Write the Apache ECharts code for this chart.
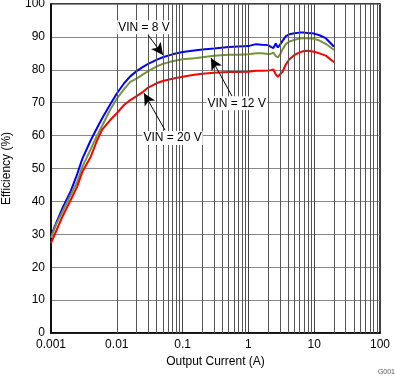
<!DOCTYPE html>
<html>
<head>
<meta charset="utf-8">
<script src="https://cdn.jsdelivr.net/npm/echarts@6/dist/echarts.min.js"></script>
<style>html,body{margin:0;padding:0;background:#fff}#c{width:395px;height:377px}</style>
</head>
<body>
<div id="c"></div>
<script>
var currents = [0.001, 0.0012, 0.0015, 0.002, 0.0025, 0.003, 0.004, 0.005, 0.006, 0.008, 0.01, 0.013, 0.016, 0.02, 0.025, 0.03, 0.04, 0.05, 0.07, 0.1, 0.15, 0.2, 0.3, 0.5, 0.7, 1, 1.3, 1.6, 2, 2.2, 2.4, 2.6, 2.8, 3, 3.3, 3.7, 4.2, 5, 6, 7, 8, 10, 12, 15, 20];
var eff8V  = [29.5, 33.5, 38, 43.2, 48.3, 53, 58.5, 62.3, 65.3, 69.6, 72.8, 76, 78, 79.6, 80.9, 81.8, 83, 83.8, 84.7, 85.4, 85.9, 86.2, 86.5, 86.9, 87.1, 87.2, 87.8, 87.6, 87.5, 87.0, 86.6, 88.0, 86.8, 87.5, 88.8, 90.2, 90.8, 91.1, 91.3, 91.3, 91.2, 91.0, 90.5, 89.6, 87.0];
var eff12V = [29, 33, 37, 42, 46, 50.5, 55.8, 60, 63, 68, 71.2, 74.2, 76.3, 77.3, 78.6, 79.6, 81, 81.8, 82.6, 83.2, 83.5, 83.8, 84.3, 84.6, 84.6, 84.7, 85.0, 85.0, 84.8, 84.9, 85.2, 84.2, 83.8, 84.5, 86.2, 87.8, 88.6, 89.1, 89.5, 89.6, 89.6, 89.4, 88.9, 87.9, 86.0];
var eff20V = [27.3, 31, 35.5, 40.5, 44.5, 49, 53.5, 58.5, 61.8, 64.8, 66.8, 69.4, 70.8, 72, 73.3, 74.6, 75.9, 76.6, 77.3, 77.9, 78.5, 78.8, 79.1, 79.3, 79.3, 79.4, 79.7, 79.7, 79.8, 79.9, 80.1, 78.6, 77.9, 78.2, 79.4, 81.6, 83.2, 84.5, 85.3, 85.7, 85.8, 85.5, 85.0, 84.3, 82.3];
var seriesNames = ['VIN = 8 V', 'VIN = 12 V', 'VIN = 20 V'];
var xTickLabels = ['0.001', '0.01', '0.1', '1', '10', '100'];
var minorGrid = [];
[0.001, 0.01, 0.1, 1, 10].forEach(function (d) {
  for (var k = 2; k <= 9; k++) minorGrid.push(+(d * k).toPrecision(3));
});
// annotation anchors in data space: [label position], [arrow start], [arrow tip]
var noteLabels = [[0.0259, 92.9], [0.664, 69.8], [0.0704, 59.3]];
var noteArrowFrom = [[0.0298, 90.6], [0.564, 72.0], [0.054, 61.7]];
var noteArrowTo = [[0.0504, 84.5], [0.27, 83.6], [0.0259, 72.9]];

function pairs(xs, ys) { return xs.map(function (x, i) { return [x, ys[i]]; }); }
var font = 'Liberation Sans, Arial, sans-serif';
var chart = echarts.init(document.getElementById('c'));
chart.setOption({
  animation: false,
  backgroundColor: '#fff',
  grid: { left: 51, top: 4, width: 329, height: 329, show: true, borderColor: '#000', borderWidth: 1.5, containLabel: false, outerBoundsMode: 'none' },
  xAxis: {
    type: 'log', logBase: 10, min: 0.001, max: 100,
    name: 'Output Current (A)', nameLocation: 'middle', nameGap: 20,
    nameTextStyle: { fontFamily: font, fontSize: 12, color: '#000' },
    axisLine: { show: true, lineStyle: { color: '#000', width: 1.5 } },
    axisTick: { show: false },
    axisLabel: { margin: 6, fontFamily: font, fontSize: 12, color: '#000',
      formatter: function (v) { var i = Math.round(Math.log10(v) + 3); return xTickLabels[i] || ''; } },
    splitLine: { show: true, lineStyle: { color: '#444', width: 1 } }
  },
  yAxis: {
    type: 'value', min: 0, max: 100, interval: 10,
    name: 'Efficiency (%)', nameLocation: 'middle', nameGap: 38,
    nameTextStyle: { fontFamily: font, fontSize: 12, color: '#000' },
    axisLine: { show: true, lineStyle: { color: '#000', width: 1.5 } },
    axisTick: { show: false },
    axisLabel: { margin: 6, fontFamily: font, fontSize: 12, color: '#000' },
    splitLine: { show: true, lineStyle: { color: '#888', width: 1 } }
  },
  graphic: [{ type: 'text', right: 0, bottom: 1, style: { text: 'G001', fontFamily: font, fontSize: 7, fill: '#555' } }],
  series: [
    { type: 'line', name: 'grid', data: [], silent: true, z: 1,
      markLine: { silent: true, symbol: ['none', 'none'], label: { show: false },
        lineStyle: { color: '#555', width: 1, type: 'solid' },
        data: minorGrid.map(function (v) { return { xAxis: v }; }) } },
    { type: 'line', name: seriesNames[0], data: pairs(currents, eff8V), showSymbol: false, z: 3,
      lineStyle: { color: '#0000ff', width: 2 }, itemStyle: { color: '#0000ff' } },
    { type: 'line', name: seriesNames[1], data: pairs(currents, eff12V), showSymbol: false, z: 3,
      lineStyle: { color: '#77933c', width: 2 }, itemStyle: { color: '#77933c' } },
    { type: 'line', name: seriesNames[2], data: pairs(currents, eff20V), showSymbol: false, z: 3,
      lineStyle: { color: '#ff0000', width: 2 }, itemStyle: { color: '#ff0000' } },
    { type: 'line', name: 'notes', data: [], silent: true, z: 5,
      markLine: { silent: true, symbol: ['none', 'arrow'], symbolSize: [9, 12], label: { show: false },
        lineStyle: { color: '#000', width: 1, type: 'solid' }, itemStyle: { color: '#000' },
        data: noteArrowFrom.map(function (p, i) { return [{ coord: p }, { coord: noteArrowTo[i] }]; }) },
      markPoint: { silent: true, symbol: 'rect', symbolSize: 1, itemStyle: { color: 'rgba(0,0,0,0)' },
        label: { show: true, position: 'inside', fontFamily: font, fontSize: 12, color: '#000',
          backgroundColor: '#fff', padding: [1, 1] },
        data: noteLabels.map(function (p, i) { return { coord: p, value: seriesNames[i], label: { formatter: seriesNames[i] } }; }) } }
  ]
});
</script>
</body>
</html>
